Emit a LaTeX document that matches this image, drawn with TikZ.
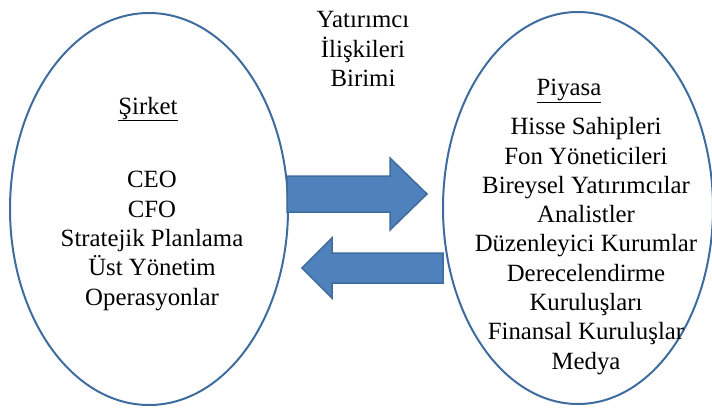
\documentclass[tikz,border=0pt]{standalone}
\usepackage{fontspec}
\setmainfont{Liberation Serif}
\definecolor{cizgi}{HTML}{3F6C9E}
\definecolor{dolgu}{HTML}{4F81BD}

\begin{document}
\begin{tikzpicture}[x=1pt,y=-1pt,
    halka/.style={draw=cizgi, line width=2pt},
    blok/.style={fill=dolgu, draw=cizgi, line width=1.5pt, line join=miter},
    yazi/.style={align=center, font=\fontsize{24.8}{29.3}\selectfont, inner sep=0pt}]
		\useasboundingbox (0,0) rectangle (712,407);
		\draw[halka] (149,209) ellipse [x radius=139, y radius=196];
		\draw[halka] (578,208) ellipse [x radius=135, y radius=196];
		\draw[blok] (287,176) -- (390,176) -- (390,158) -- (427,194) -- (390,230) -- (390,212) -- (287,212) -- cycle;
		\draw[blok] (443,253) -- (332,253) -- (332,238) -- (302,268) -- (332,298) -- (332,283) -- (443,283) -- cycle;
		\node[yazi] (birim) at (363,49) {Yatırımcı\\İlişkileri\\Birimi};
		\node[yazi, anchor=base] (sirket) at (148,114) {\underline{Şirket}};
		\node[yazi] (yonetim) at (152,241) {CEO\\CFO\\Stratejik Planlama\\Üst Yönetim\\Operasyonlar};
		\node[yazi, anchor=base] (piyasa) at (569,95) {\underline{Piyasa}};
		\node[yazi] (paydas) at (586,246) {Hisse Sahipleri\\Fon Yöneticileri\\Bireysel Yatırımcılar\\Analistler\\Düzenleyici Kurumlar\\Derecelendirme\\Kuruluşları\\Finansal Kuruluşlar\\Medya};
	\end{tikzpicture}
\end{document}
